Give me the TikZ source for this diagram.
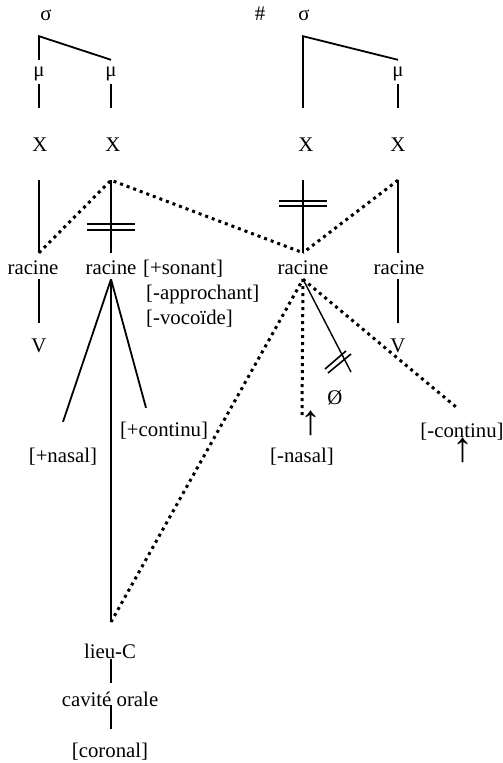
\documentclass[tikz,border=0pt]{standalone}
\usepackage{fontspec}
\setmainfont{Liberation Serif}
\usetikzlibrary{calc}

\begin{document}
\begin{tikzpicture}[x=1pt, y=-1pt,
    lab/.style={inner sep=0pt, text height=18pt, text depth=3pt,
                font=\fontsize{20.8}{24}\selectfont},
    mora/.style={lab, text height=12pt, minimum height=24pt},
    root/.style={lab, text height=20pt, minimum height=26pt},
    uparr/.style={lab, font=\fontsize{42}{44}\selectfont},
    tie/.style={line width=1.8pt},
    dots/.style={line width=3pt, dash pattern=on 3pt off 4pt}]
  \useasboundingbox (0,0) rectangle (503,763);

  % Syllables and moras
  \node[lab, minimum height=46pt] (sigL) at (46,13) {σ};
  \node[lab] (hash) at (260,13) {\#};
  \node[lab, minimum height=46pt] (sigR) at (304,13) {σ};
  \node[mora] (muA) at (39,72) {μ};
  \node[mora] (muB) at (111,72) {μ};
  \node[mora] (muC) at (398,72) {μ};

  % Skeleton
  \node[lab, minimum height=72pt] (xA) at (40,144) {X};
  \node[lab, minimum height=72pt] (xB) at (113,144) {X};
  \node[lab, minimum height=72pt] (xC) at (306,144) {X};
  \node[lab, minimum height=72pt] (xD) at (398,144) {X};

  % Root nodes
  \node[root] (racA) at (33,266) {racine};
  \node[root] (racB) at (111,266) {racine};
  \node[root] (racC) at (303,266) {racine};
  \node[root] (racD) at (399,266) {racine};
  \node[lab, minimum height=44pt] (vA) at (39,345) {V};
  \node[lab, minimum height=44pt] (vB) at (398,345) {V};
  \node[root, anchor=west, minimum height=0pt] (son) at (143,266) {[+sonant]};
  \node[root, anchor=west, minimum height=0pt] (appr) at (146,291) {[-approchant]};
  \node[root, anchor=west, minimum height=0pt] (voc) at (146,316) {[-vocoïde]};

  % Features
  \node[lab, minimum height=66pt] (nasP) at (63,455) {[+nasal]};
  \node[lab, minimum height=42pt] (contP) at (164,429) {[+continu]};
  \node[lab, minimum height=74pt] (nasM) at (302,455) {[-nasal]};
  \node[uparr] (upN) at (311,427) {↑};
  \node[lab] (zero) at (335,397) {Ø};
  \node[lab, minimum height=44pt] (contM) at (462,430) {[-continu]};
  \node[uparr] (upC) at (463,454) {↑};
  \coordinate (lieuTop) at (111,622);
  \coordinate (cutEnd) at (351,372);
  \node[lab] (lieu) at (110,651) {lieu-C};
  \node[lab, minimum height=32pt] (cav) at (110,699) {cavité orale};
  \node[lab, minimum height=42pt] (cor) at (110,750) {[coronal]};

  % Association lines
  \draw[tie] (muA.north) -- (muA.north |- sigL.south) -- (muB.north);
  \draw[tie] (xC.north -| racC) -- (sigR.south -| racC) -- (muC.north);
  \draw[tie] (muA.south) -- (xA.north -| muA);
  \draw[tie] (muB.south) -- (xB.north -| muB);
  \draw[tie] (muC.south) -- (xD.north);
  \draw[tie] (xA.south -| muA) -- (racA.north -| muA);
  \draw[tie] (xB.south -| muB) -- (racB.north);
  \draw[tie] (xC.south -| racC) -- (racC.north);
  \draw[tie] (xD.south) -- (racD.north -| xD);
  \draw[tie] (racA.south -| vA) -- (vA.north);
  \draw[tie] (racD.south -| vB) -- (vB.north);
  \draw[tie] (racB.south) -- (nasP.north);
  \draw[tie] (racB.south) -- ([xshift=-18pt]contP.north);
  \draw[tie] (racB.south) -- (lieuTop);
  \draw[tie] ([yshift=3pt]lieu.south -| lieuTop) -- (cav.north -| lieuTop);
  \draw[tie] ([yshift=10pt]cav.south -| lieuTop) -- (cor.north -| lieuTop);
  \draw[line width=1.4pt] (racC.south) -- (cutEnd);

  % Delinking bars
  \draw[tie] (87,224) -- (135,224) (87,230) -- (135,230);
  \draw[line width=1.6pt] (279,201) -- (327,201) (279,206) -- (327,206);
  \draw[line width=1.6pt] (325,369) -- (346,351) (328,373) -- (351,354);

  % Spreading
  \draw[dots] (racA.north -| muA) -- (xB.south -| muB) -- (racC.north);
  \draw[dots] (xD.south) -- (racC.north);
  \draw[dots] (lieuTop) -- (racC.south);
  \draw[dots] (racC.south) -- (nasM.north);
  \draw[dots] (racC.south) -- ([xshift=-5pt]contM.north);
\end{tikzpicture}
\end{document}
